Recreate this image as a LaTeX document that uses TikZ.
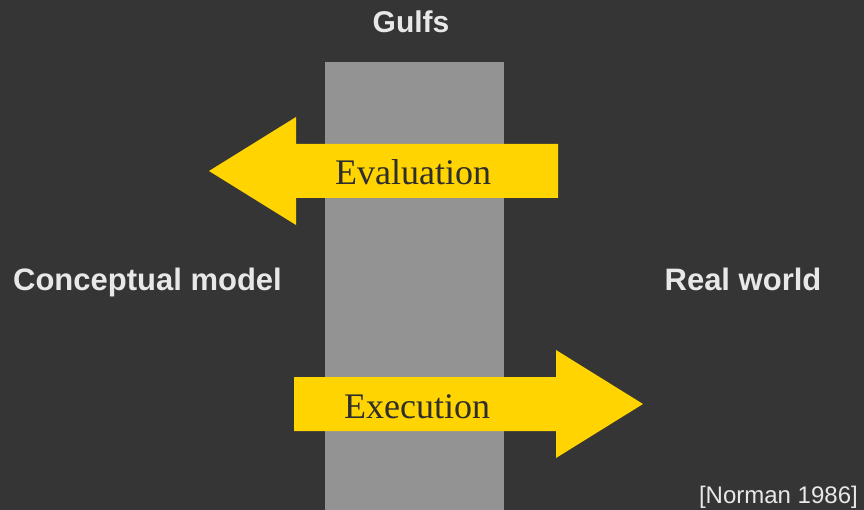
\documentclass[tikz,border=0pt]{standalone}
\usepackage{fontspec}
\setmainfont{Liberation Serif}
\setsansfont{Liberation Sans}
\definecolor{bg}{HTML}{353535}
\definecolor{gulf}{HTML}{939393}
\definecolor{arrowyellow}{HTML}{FFD400}
\definecolor{lighttext}{HTML}{E8E8E8}
\definecolor{darktext}{HTML}{2E2E2E}
\tikzset{
  side/.style={text=lighttext, font=\sffamily\bfseries\fontsize{31}{31}\selectfont, inner sep=0pt, anchor=base},
  arrowtext/.style={text=darktext, font=\rmfamily\fontsize{36}{36}\selectfont, inner sep=0pt, anchor=base west},
  bigarrow/.style={fill=arrowyellow, draw=none}
}
\begin{document}
\begin{tikzpicture}[x=1pt, y=-1pt]
        \fill[bg] (0,0) rectangle (864,510);
        \useasboundingbox (0,0) rectangle (864,510);
        \fill[gulf] (325,62) rectangle (504,510);
        % evaluation goes left, execution goes right
        \fill[bigarrow] (209,171) -- (296,117) -- (296,144) -- (558,144) -- (558,198) -- (296,198) -- (296,225) -- cycle;
        \fill[bigarrow] (643,404) -- (556,350) -- (556,377) -- (294,377) -- (294,431) -- (556,431) -- (556,458) -- cycle;
        \node[arrowtext] (eval) at (335,185) {Evaluation};
        \node[arrowtext] (exec) at (344,418) {Execution};
        \node[side, font=\sffamily\bfseries\fontsize{30}{30}\selectfont] (gulfs) at (411,33) {Gulfs};
        \node[side] (model) at (147.5,291) {Conceptual model};
        \node[side] (world) at (743,291) {Real world};
        \node[text=lighttext, font=\sffamily\fontsize{24}{24}\selectfont, inner sep=0pt, anchor=base east] (cite) at (858,503) {[Norman 1986]};
    \end{tikzpicture}
\end{document}
